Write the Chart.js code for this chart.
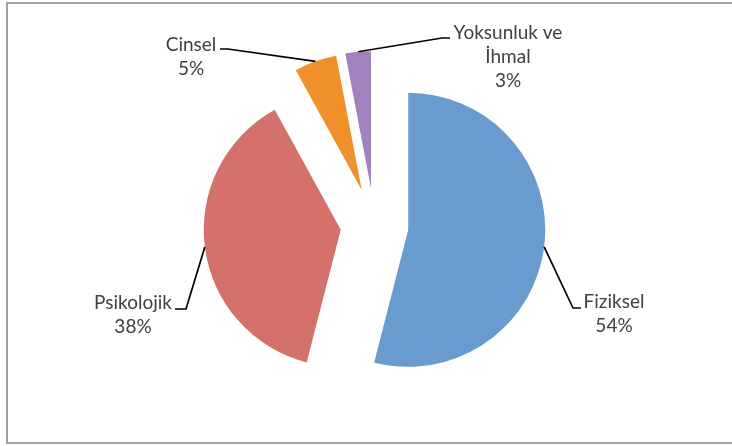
<!DOCTYPE html>
<html lang="tr">
<head>
  <meta charset="UTF-8">
  <title>Şiddet Türleri</title>
  <script src="https://cdn.jsdelivr.net/npm/chart.js"></script>
  <style>
    html, body { margin: 0; padding: 0; background: #fff; }
    #wrap { position: relative; width: 732px; height: 446px; }
  </style>
</head>
<body>
  <div id="wrap">
    <canvas id="pieChart"></canvas>
  </div>

  <script>
    // veriler
    const kategoriler = ['Fiziksel', 'Psikolojik', 'Cinsel', 'Yoksunluk ve\nİhmal'];
    const yuzdeler = [54, 38, 5, 3];

    // stil
    const renkler = ['#6A9BCF', '#D4716B', '#F0902A', '#A083BE'];
    const patlama = [34, 34, 37.5, 37.5];
    // etiket yerlesimi: metin merkezi, kirilma noktasi, cizgi sonu
    const etiketYer = [
      { x: 614, y: 314, kx: 573, ky: 308, sx: 581 },
      { x: 133, y: 315, kx: 186, ky: 309, sx: 175 },
      { x: 191, y: 57,  kx: 228, ky: 49,  sx: 220 },
      { x: 508, y: 57,  kx: 442, ky: 38,  sx: 450 }
    ];

    const yazi = '19px Lato';

    // dilimleri disari itip ciz
    const patlakDilim = {
      id: 'patlakDilim',
      beforeDraw(chart) {
        const ctx = chart.ctx;
        ctx.save();
        ctx.strokeStyle = '#A0A0A0';
        ctx.lineWidth = 2;
        ctx.strokeRect(7, 3, 740, 440);
        ctx.restore();
      },
      beforeDatasetDraw(chart, args) {
        const ctx = chart.ctx;
        args.meta.data.forEach((arc, i) => {
          const orta = (arc.startAngle + arc.endAngle) / 2;
          ctx.save();
          ctx.translate(Math.cos(orta) * patlama[i], Math.sin(orta) * patlama[i]);
          arc.draw(ctx);
          ctx.restore();
        });
        return false;
      },
      afterDatasetsDraw(chart) {
        const ctx = chart.ctx;
        const arcs = chart.getDatasetMeta(0).data;
        ctx.save();
        arcs.forEach((arc, i) => {
          const orta = (arc.startAngle + arc.endAngle) / 2;
          const d = patlama[i];
          const ax = arc.x + Math.cos(orta) * (d + arc.outerRadius);
          const ay = arc.y + Math.sin(orta) * (d + arc.outerRadius);
          const e = etiketYer[i];
          ctx.beginPath();
          ctx.strokeStyle = '#000';
          ctx.lineWidth = 1.7;
          ctx.moveTo(ax, ay);
          ctx.lineTo(e.kx, e.ky);
          ctx.lineTo(e.sx, e.ky);
          ctx.stroke();

          const satirlar = kategoriler[i].split('\n').concat([yuzdeler[i] + '%']);
          ctx.fillStyle = '#404040';
          ctx.font = yazi;
          ctx.textAlign = 'center';
          ctx.textBaseline = 'middle';
          const ara = 24;
          const y0 = e.y - (satirlar.length - 1) * ara / 2;
          satirlar.forEach((s, j) => ctx.fillText(s, e.x, y0 + j * ara));
        });
        ctx.restore();
      }
    };

    new Chart(document.getElementById('pieChart'), {
      type: 'pie',
      data: {
        labels: kategoriler,
        datasets: [{
          data: yuzdeler,
          backgroundColor: renkler,
          borderWidth: 0
        }]
      },
      options: {
        responsive: true,
        maintainAspectRatio: false,
        animation: false,
        radius: 137,
        layout: { padding: { left: 17, right: 0, top: 5, bottom: 0 } },
        plugins: {
          legend: { display: false },
          tooltip: { enabled: false }
        }
      },
      plugins: [patlakDilim]
    });
  </script>
</body>
</html>
